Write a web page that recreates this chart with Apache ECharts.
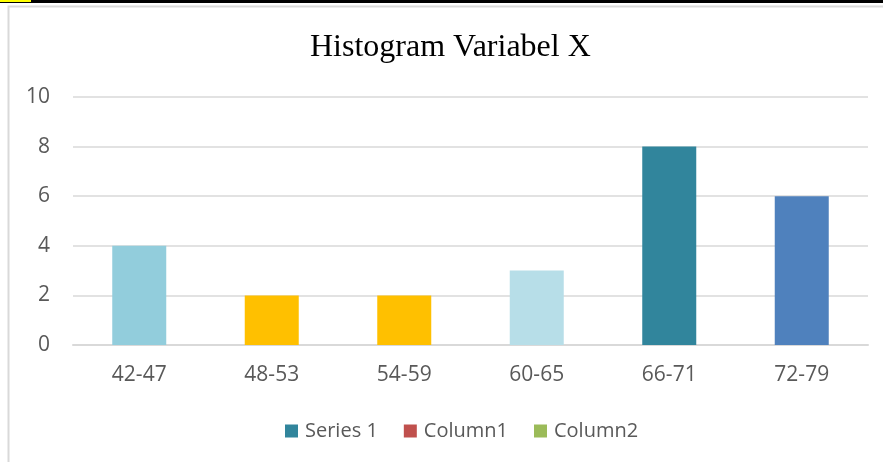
<!DOCTYPE html>
<html><head><meta charset="utf-8">
<script src="https://cdn.jsdelivr.net/npm/echarts@6/dist/echarts.min.js"></script>
<style>html,body{margin:0;padding:0;background:#fff}#c{width:883px;height:462px}</style>
</head><body><div id="c"></div>
<script>
const categories = ['42-47','48-53','54-59','60-65','66-71','72-79'];
const series1Values = [4,2,2,3,8,6];
const barColors = ['#92CDDC','#FFC000','#FFC000','#B7DEE8','#31859C','#4F81BD'];
const legendNames = ['Series 1','Column1','Column2'];
const legendColors = ['#31859C','#C0504D','#9BBB59'];
const yTicks = [0,2,4,6,8,10];

const chart = echarts.init(document.getElementById('c'), null, {renderer:'canvas'});
const option = {
  animation:false,
  title:{text:'Histogram Variabel X',left:305,top:27,
    textStyle:{fontFamily:'Liberation Serif',fontSize:32,fontWeight:'normal',color:'#000'}},
  legend:{top:416,left:280,itemWidth:13,itemHeight:13,itemGap:26,icon:'rect',
    textStyle:{fontFamily:'Open Sans',fontSize:20,color:'#595959',padding:[0,0,0,2]},data:legendNames},
  grid:{left:73,right:15,top:97,bottom:117},
  xAxis:{type:'category',data:categories,
    axisLine:{lineStyle:{color:'#D9D9D9',width:2}},axisTick:{show:false},
    axisLabel:{fontFamily:'Open Sans',fontSize:21,color:'#595959',margin:20}},
  yAxis:{type:'value',min:yTicks[0],max:yTicks[yTicks.length-1],interval:2,
    axisLine:{show:false},axisTick:{show:false},
    splitLine:{lineStyle:{color:'#D9D9D9',width:1.5}},
    axisLabel:{fontFamily:'Open Sans',fontSize:21,color:'#595959',margin:23}},
  series:[
    {name:legendNames[0],type:'bar',barWidth:54,barGap:'-100%',itemStyle:{color:legendColors[0]},
     data:series1Values.map((v,i)=>({value:v,itemStyle:{color:barColors[i]}}))},
    {name:legendNames[1],type:'bar',barWidth:54,barGap:'-100%',itemStyle:{color:legendColors[1]},data:[]},
    {name:legendNames[2],type:'bar',barWidth:54,barGap:'-100%',itemStyle:{color:legendColors[2]},data:[]}
  ],
  graphic:[
    {type:'rect',shape:{x:8.5,y:6.5,width:900,height:500},style:{fill:null,stroke:'#D9D9D9',lineWidth:2},silent:true},
    {type:'rect',shape:{x:0,y:0,width:883,height:3},style:{fill:'#000'},silent:true},
    {type:'rect',shape:{x:0,y:0,width:31,height:2},style:{fill:'#FFFF00'},silent:true}
  ]
};
chart.setOption(option);
</script></body></html>
